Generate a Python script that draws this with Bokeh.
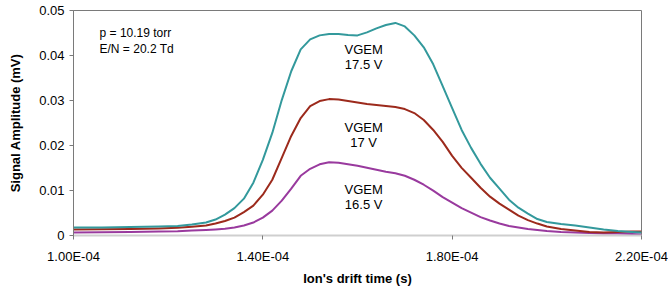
from bokeh.plotting import figure
from bokeh.models import Range1d, FixedTicker, CustomJSTickFormatter, Label
from bokeh.embed import file_html
from bokeh.resources import INLINE

# drift time (s)
time_s = [1.00e-4, 1.06e-4, 1.12e-4, 1.18e-4, 1.22e-4, 1.25e-4, 1.28e-4, 1.30e-4, 1.32e-4,
          1.34e-4, 1.36e-4, 1.38e-4, 1.40e-4, 1.42e-4, 1.44e-4, 1.46e-4, 1.48e-4, 1.50e-4,
          1.52e-4, 1.54e-4, 1.56e-4, 1.58e-4, 1.60e-4, 1.62e-4, 1.64e-4, 1.66e-4, 1.68e-4,
          1.70e-4, 1.72e-4, 1.74e-4, 1.76e-4, 1.78e-4, 1.80e-4, 1.82e-4, 1.84e-4, 1.86e-4,
          1.88e-4, 1.90e-4, 1.92e-4, 1.94e-4, 1.96e-4, 1.98e-4, 2.00e-4, 2.03e-4, 2.06e-4,
          2.09e-4, 2.12e-4, 2.15e-4, 2.18e-4, 2.20e-4]

# VGEM 17.5 V
amp_175 = [0.00177, 0.00177, 0.00188, 0.00199, 0.00210, 0.00243, 0.00288, 0.00354, 0.00465,
           0.00608, 0.00819, 0.01173, 0.01681, 0.02279, 0.03009, 0.03650, 0.04137, 0.04358,
           0.04447, 0.04480, 0.04480, 0.04458, 0.04447, 0.04513, 0.04602, 0.04679, 0.04724,
           0.04646, 0.04447, 0.04181, 0.03805, 0.03319, 0.02832, 0.02345, 0.01947, 0.01593,
           0.01283, 0.01040, 0.00796, 0.00619, 0.00487, 0.00365, 0.00299, 0.00254, 0.00221,
           0.00177, 0.00133, 0.00100, 0.00077, 0.00066]

# VGEM 17 V
amp_170 = [0.00133, 0.00137, 0.00144, 0.00155, 0.00170, 0.00192, 0.00221, 0.00265, 0.00321,
           0.00398, 0.00520, 0.00664, 0.00907, 0.01239, 0.01726, 0.02212, 0.02611, 0.02876,
           0.02987, 0.03031, 0.03020, 0.02987, 0.02954, 0.02920, 0.02898, 0.02876, 0.02854,
           0.02810, 0.02721, 0.02566, 0.02345, 0.02080, 0.01770, 0.01504, 0.01283, 0.01062,
           0.00863, 0.00708, 0.00575, 0.00442, 0.00343, 0.00265, 0.00199, 0.00144, 0.00111,
           0.00077, 0.00066, 0.00077, 0.00088, 0.00088]

# VGEM 16.5 V
amp_165 = [0.00066, 0.00071, 0.00077, 0.00088, 0.00097, 0.00111, 0.00122, 0.00133, 0.00148,
           0.00177, 0.00221, 0.00288, 0.00398, 0.00553, 0.00774, 0.01040, 0.01327, 0.01482,
           0.01582, 0.01626, 0.01615, 0.01582, 0.01549, 0.01504, 0.01460, 0.01416, 0.01383,
           0.01327, 0.01239, 0.01128, 0.00996, 0.00852, 0.00730, 0.00608, 0.00509, 0.00409,
           0.00332, 0.00265, 0.00210, 0.00177, 0.00144, 0.00122, 0.00100, 0.00077, 0.00066,
           0.00055, 0.00044, 0.00044, 0.00033, 0.00022]

x_ticks = [1.0e-4, 1.4e-4, 1.8e-4, 2.2e-4]
y_ticks = [0, 0.01, 0.02, 0.03, 0.04, 0.05]

FONT = "Liberation Sans"

p = figure(width=668, height=288, output_backend="svg", toolbar_location=None,
           x_range=Range1d(1.0e-4, 2.2e-4), y_range=Range1d(0, 0.05),
           min_border_left=73, min_border_right=27, min_border_top=10, min_border_bottom=52)

p.background_fill_color = "white"
p.border_fill_color = "white"
p.outline_line_color = "#7a7a7a"
p.outline_line_width = 1
p.xgrid.visible = False
p.ygrid.visible = False

p.line(time_s, amp_165, line_color="#993A9E", line_width=2, line_join="round")
p.line(time_s, amp_170, line_color="#9C2A1C", line_width=2, line_join="round")
p.line(time_s, amp_175, line_color="#33999C", line_width=2, line_join="round")

xa = p.xaxis[0]
xa.ticker = FixedTicker(ticks=x_ticks)
xa.formatter = CustomJSTickFormatter(code="""
var s = tick.toExponential(2).toUpperCase();
var parts = s.split("E");
var e = parseInt(parts[1]);
var a = Math.abs(e);
return parts[0] + "E" + (e < 0 ? "-" : "+") + (a < 10 ? "0" : "") + a;
""")
xa.axis_label = "Ion's drift time (s)"
xa.axis_line_color = "#cfcfcf"
xa.axis_line_width = 2
xa.major_tick_line_color = "#7a7a7a"
xa.major_tick_out = 4
xa.major_tick_in = 0
xa.minor_tick_line_color = None
xa.major_label_standoff = 9
xa.axis_label_standoff = 4

ya = p.yaxis[0]
ya.ticker = FixedTicker(ticks=y_ticks)
ya.formatter = CustomJSTickFormatter(code="""
return tick == 0 ? "0" : tick.toFixed(2);
""")
ya.axis_label = "Signal Amplitude (mV)"
ya.axis_line_color = "#7a7a7a"
ya.major_tick_line_color = "#7a7a7a"
ya.major_tick_out = 4
ya.major_tick_in = 0
ya.minor_tick_line_color = None
ya.major_label_standoff = 5
ya.axis_label_standoff = 13

for ax in (xa, ya):
    ax.major_label_text_font = FONT
    ax.major_label_text_font_size = "13px"
    ax.major_label_text_color = "black"
    ax.axis_label_text_font = FONT
    ax.axis_label_text_font_size = "13px"
    ax.axis_label_text_font_style = "bold"
    ax.axis_label_text_color = "black"

# annotations
notes = [("p = 10.19 torr", 1.055e-4, 0.0449), ("E/N = 20.2 Td", 1.055e-4, 0.0414)]
for txt, xx, yy in notes:
    p.add_layout(Label(x=xx, y=yy, text=txt, text_font=FONT, text_font_size="12px",
                       text_align="left", text_baseline="middle", text_color="black"))

curve_labels = [("VGEM", 0.0414), ("17.5 V", 0.0380),
                ("VGEM", 0.0241), ("17 V", 0.0207),
                ("VGEM", 0.0102), ("16.5 V", 0.0068)]
for txt, yy in curve_labels:
    p.add_layout(Label(x=1.613e-4, y=yy, text=txt, text_font=FONT, text_font_size="13px",
                       text_align="center", text_baseline="middle", text_color="black"))

open("out.html", "w").write(file_html(p, INLINE))
